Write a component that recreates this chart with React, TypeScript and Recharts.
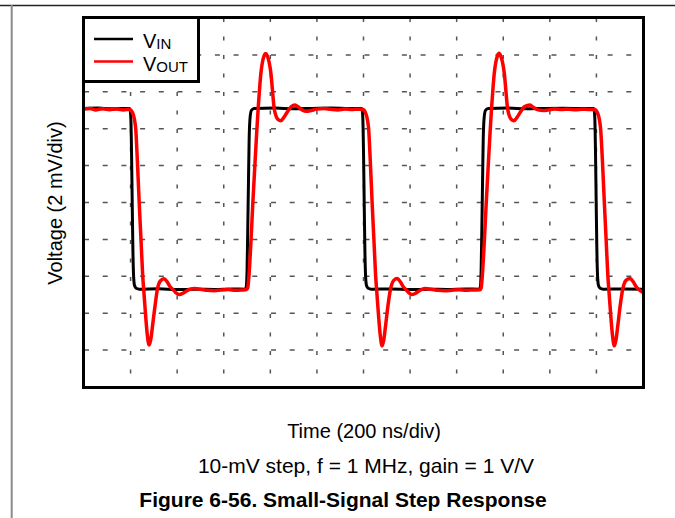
import { LineChart, Line, XAxis, YAxis, CartesianGrid, Legend } from 'recharts';

// scope trace: time in ns (200 ns/div), level in mV (2 mV/div)
const TIME_TICKS = [0, 200, 400, 600, 800, 1000, 1200, 1400, 1600, 1800, 2000, 2200, 2400];
const MV_TICKS = [0, 2, 4, 6, 8, 10, 12, 14, 16, 18, 20];

const VIN: [number, number][] = [
  [0, 15.1], [60, 15.12], [120, 15.08], [197, 15.1],
  [201, 14.6], [204, 12.8], [207, 10.0], [210, 7.4], [213, 6.0], [217, 5.5], [224, 5.35], [237, 5.3],
  [320, 5.32], [400, 5.28], [480, 5.3], [560, 5.29], [640, 5.31], [693, 5.3],
  [697, 5.45], [700, 6.3], [703, 8.5], [706, 11.0], [709, 13.4], [713, 14.6], [719, 15.0], [730, 15.1],
  [820, 15.12], [900, 15.08], [980, 15.1], [1060, 15.12], [1140, 15.09], [1193, 15.1],
  [1197, 14.6], [1200, 12.8], [1203, 10.0], [1206, 7.4], [1209, 6.0], [1213, 5.5], [1220, 5.35], [1233, 5.3],
  [1320, 5.31], [1400, 5.28], [1480, 5.3], [1560, 5.29], [1640, 5.31], [1698, 5.3],
  [1702, 5.45], [1705, 6.3], [1708, 8.5], [1711, 11.0], [1714, 13.4], [1718, 14.6], [1724, 15.0], [1735, 15.1],
  [1820, 15.12], [1900, 15.08], [1980, 15.1], [2060, 15.11], [2140, 15.09], [2189, 15.1],
  [2193, 14.6], [2196, 12.8], [2199, 10.0], [2202, 7.4], [2205, 6.0], [2209, 5.5], [2216, 5.35], [2229, 5.3],
  [2320, 5.31], [2400, 5.3],
];

const VOUT: [number, number][] = [
  [0, 15.06], [25, 15.1], [50, 15.02], [80, 15.08], [110, 15.03], [140, 15.07], [170, 15.02], [195, 15.05],
  [203, 14.98], [209, 14.85], [214, 14.65], [218, 14.4], [222, 14.0], [229, 12.3], [237, 10.0], [245, 7.9],
  [252, 6.05], [258, 5.0], [265, 3.8], [272, 2.8], [280, 2.27], [287, 2.6], [295, 3.4], [305, 4.4],
  [315, 5.3], [328, 5.75], [343, 5.87], [357, 5.7], [369, 5.45], [381, 5.3], [395, 5.1], [409, 5.01],
  [425, 5.08], [440, 5.2], [455, 5.3], [475, 5.34], [500, 5.3], [530, 5.24], [560, 5.22], [590, 5.26],
  [620, 5.28], [650, 5.24], [680, 5.26], [698, 5.28],
  [703, 5.38], [708, 6.0], [717, 7.95], [725, 10.0], [734, 12.1], [741, 13.7], [748, 15.15], [754, 16.2],
  [759, 16.95], [766, 17.6], [773, 17.95], [780, 18.07], [787, 17.95], [795, 17.6], [803, 16.95], [809, 16.1],
  [816, 15.15], [824, 14.7], [833, 14.5], [845, 14.43], [860, 14.65], [875, 14.95], [890, 15.2], [906, 15.28],
  [920, 15.18], [935, 15.03], [956, 14.94], [975, 14.99], [1000, 15.06], [1030, 15.1], [1060, 15.05],
  [1090, 15.02], [1120, 15.07], [1150, 15.04], [1175, 15.06], [1195, 15.05],
  [1203, 15.0], [1209, 14.85], [1214, 14.65], [1218, 14.4], [1222, 14.0], [1229, 12.3], [1237, 10.0],
  [1245, 7.9], [1252, 6.05], [1258, 5.0], [1265, 3.8], [1272, 2.8], [1280, 2.23], [1287, 2.55], [1295, 3.35],
  [1305, 4.4], [1316, 5.3], [1330, 5.78], [1345, 5.88], [1358, 5.7], [1370, 5.45], [1382, 5.28], [1395, 5.1],
  [1407, 5.01], [1422, 5.07], [1440, 5.22], [1464, 5.34], [1490, 5.3], [1520, 5.24], [1550, 5.22],
  [1580, 5.25], [1610, 5.27], [1640, 5.24], [1670, 5.26], [1700, 5.27],
  [1705, 5.36], [1710, 6.0], [1719, 7.95], [1727, 10.0], [1736, 12.1], [1743, 13.7], [1750, 15.15],
  [1756, 16.2], [1761, 16.95], [1768, 17.6], [1775, 17.95], [1782, 18.09], [1789, 17.95], [1797, 17.6],
  [1805, 16.95], [1811, 16.1], [1818, 15.15], [1826, 14.7], [1835, 14.5], [1846, 14.43], [1861, 14.65],
  [1876, 14.95], [1892, 15.2], [1915, 15.28], [1930, 15.15], [1950, 15.02], [1972, 14.98], [1995, 15.02],
  [2020, 15.07], [2050, 15.04], [2080, 15.06], [2110, 15.03], [2140, 15.06], [2170, 15.04], [2192, 15.05],
  [2199, 14.98], [2205, 14.85], [2210, 14.65], [2214, 14.4], [2218, 14.0], [2226, 12.2], [2234, 10.0],
  [2242, 7.9], [2249, 6.05], [2255, 5.0], [2262, 3.8], [2269, 2.8], [2277, 2.23], [2284, 2.55], [2292, 3.35],
  [2302, 4.4], [2313, 5.3], [2327, 5.78], [2345, 5.88], [2358, 5.7], [2370, 5.45], [2382, 5.28], [2400, 5.12],
];

const SUBSCRIPTS: Record<string, string> = { VIN: 'IN', VOUT: 'OUT' };

const FONT = '"Liberation Sans", Arial, Helvetica, sans-serif';

const toRows = (pts: [number, number][]) => pts.map(([t, mv]) => ({ t, mv }));

const LegendBox = ({ payload }: any) => (
  <svg width={118} height={67} style={{ display: 'block' }}>
    <rect x={1.5} y={1.5} width={115} height={64} fill="#fff" stroke="#000" strokeWidth={3} />
    {(payload || []).map((entry: any, i: number) => {
      const y = 23 + i * 22.5;
      return (
        <g key={entry.value}>
          <line x1={12} x2={51} y1={y} y2={y} stroke={entry.color} strokeWidth={2.5} />
          <text x={61} y={y + 9} fontFamily={FONT} fontSize={20} fill="#000">
            V<tspan fontSize={15} dy={1}>{SUBSCRIPTS[entry.value]}</tspan>
          </text>
        </g>
      );
    })}
  </svg>
);

export default function App() {
  return (
    <div style={{ position: 'absolute', left: 0, top: 0, width: 675, height: 518, background: '#fff', fontFamily: FONT }}>
      <LineChart width={675} height={518} margin={{ top: 18, right: 32, bottom: 131, left: 84 }}>
        <XAxis dataKey="t" type="number" domain={[0, 2400]} ticks={TIME_TICKS} hide allowDuplicatedCategory={false} />
        <YAxis type="number" domain={[0, 20]} ticks={MV_TICKS} hide />
        <CartesianGrid horizontal={false} stroke="#555" strokeWidth={1.5} strokeDasharray="4 14.5" />
        <CartesianGrid vertical={false} stroke="#555" strokeWidth={1.5} strokeDasharray="5 13.7" />
        <Line
          name="VIN"
          data={toRows(VIN)}
          dataKey="mv"
          type="monotone"
          stroke="#000"
          strokeWidth={3}
          dot={false}
          activeDot={false}
          isAnimationActive={false}
        />
        <Line
          name="VOUT"
          data={toRows(VOUT)}
          dataKey="mv"
          type="monotone"
          stroke="#ff0000"
          strokeWidth={3.5}
          dot={false}
          activeDot={false}
          isAnimationActive={false}
        />
        <Legend
          layout="vertical"
          align="center"
          verticalAlign="middle"
          content={LegendBox}
          wrapperStyle={{ left: 82, top: 16, width: 118, height: 67 }}
        />
      </LineChart>

      <svg width={675} height={518} style={{ position: 'absolute', left: 0, top: 0, pointerEvents: 'none' }}>
        {/* page rules */}
        <line x1={0} x2={675} y1={5.5} y2={5.5} stroke="#222" strokeWidth={1.5} />
        <line x1={11.7} x2={11.7} y1={5} y2={518} stroke="#8a8a8a" strokeWidth={2} />
        {/* plot frame */}
        <rect x={83.5} y={17.5} width={560} height={370} fill="none" stroke="#000" strokeWidth={3} />

        <text x={62} y={203} transform="rotate(-90 62 203)" textAnchor="middle" fontSize={20} fill="#000">
          Voltage (2 mV/div)
        </text>
        <text x={364} y={438.3} textAnchor="middle" fontSize={20} fill="#000">
          Time (200 ns/div)
        </text>
        <text x={366} y={473.3} textAnchor="middle" fontSize={21} fill="#000">
          10-mV step, f = 1 MHz, gain = 1 V/V
        </text>
        <text x={343} y={507.3} textAnchor="middle" fontSize={21} fontWeight="bold" fill="#000">
          Figure 6-56. Small-Signal Step Response
        </text>
      </svg>
    </div>
  );
}
